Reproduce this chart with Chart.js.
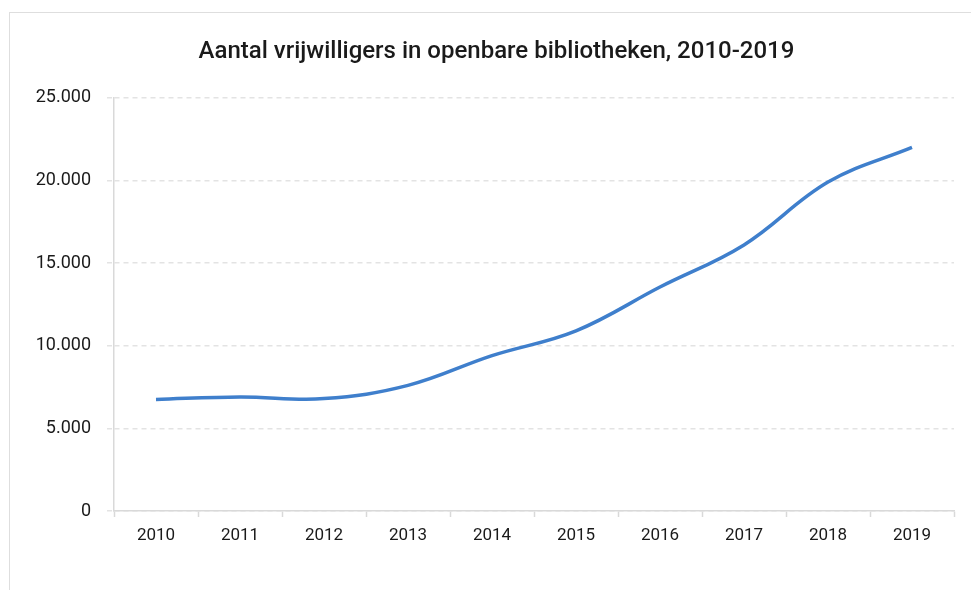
<!DOCTYPE html>
<html>
<head>
<meta charset="utf-8">
<script src="https://cdn.jsdelivr.net/npm/chart.js@4"></script>
<style>
  html, body { margin: 0; padding: 0; background: #fff; overflow: hidden; width: 971px; height: 590px; }
  #box { position: absolute; left: 9px; top: 12px; width: 973px; height: 600px;
         border-top: 1px solid #dedede; border-left: 1px solid #dedede; }
</style>
</head>
<body>
<div id="box"><canvas id="volunteerChart"></canvas></div>
<script>
// Aantal vrijwilligers per jaar
const years = ['2010', '2011', '2012', '2013', '2014', '2015', '2016', '2017', '2018', '2019'];
const volunteers = [6750, 6900, 6800, 7600, 9400, 10900, 13550, 16100, 19900, 22000];
const yTicks = [0, 5000, 10000, 15000, 20000, 25000];

Chart.defaults.font.family = 'Roboto, "DejaVu Sans", sans-serif';
Chart.defaults.color = '#1a1a1a';

new Chart(document.getElementById('volunteerChart'), {
  type: 'line',
  data: {
    labels: years,
    datasets: [{
      label: 'Vrijwilligers',
      data: volunteers,
      borderColor: '#3f7fcc',
      borderWidth: 3.5,
      pointRadius: 0,
      tension: 0.38,
      fill: false
    }]
  },
  options: {
    responsive: true,
    maintainAspectRatio: false,
    animation: false,
    locale: 'nl-NL',
    layout: { padding: 0 },
    plugins: {
      legend: { display: false },
      tooltip: { enabled: false },
      title: {
        display: true,
        text: 'Aantal vrijwilligers in openbare bibliotheken, 2010-2019',
        color: '#1a1a1a',
        font: { size: 24, weight: '500' },
        padding: { top: 25, bottom: 31 }
      }
    },
    scales: {
      x: {
        offset: true,
        grid: {
          offset: true,
          drawOnChartArea: false,
          tickLength: 6,
          tickColor: '#d9d9d9',
          tickWidth: 1.5
        },
        border: { color: '#d9d9d9', width: 1.5 },
        ticks: { font: { size: 17 }, padding: 9, maxRotation: 0 },
        afterFit: (scale) => { scale.height = 102; }
      },
      y: {
        min: yTicks[0],
        max: yTicks[yTicks.length - 1],
        afterBuildTicks: (scale) => { scale.ticks = yTicks.map(v => ({ value: v })); },
        grid: {
          color: '#e3e3e3',
          lineWidth: 1.5,
          tickLength: 7,
          tickColor: '#e3e3e3',
          tickBorderDash: [5, 4]
        },
        border: { color: '#d9d9d9', width: 1.5, dash: [5, 4] },
        ticks: { font: { size: 18 }, padding: 16 },
        afterFit: (scale) => { scale.width = 104; }
      },
      // lege rechteras: houdt ruimte vrij rechts van het plotgebied
      yRight: {
        position: 'right',
        display: true,
        grid: { display: false },
        border: { display: false },
        ticks: { display: false },
        afterFit: (scale) => { scale.width = 29; }
      }
    }
  }
});
</script>
</body>
</html>
